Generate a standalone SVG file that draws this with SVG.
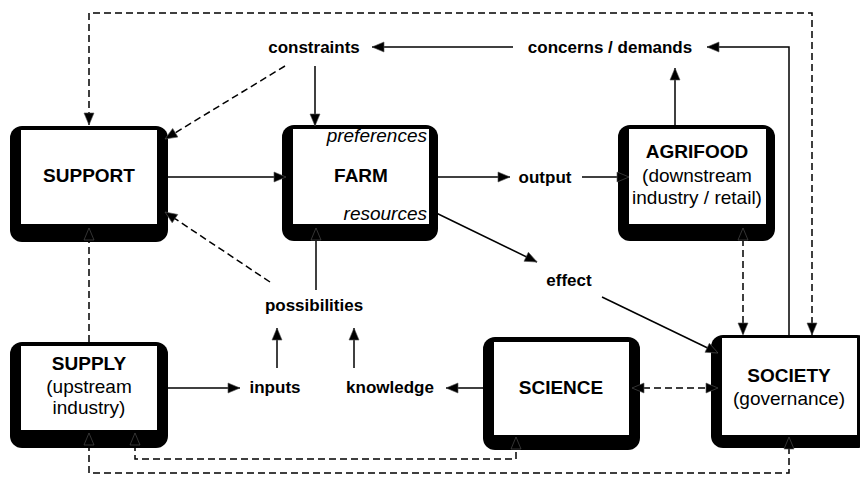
<svg xmlns="http://www.w3.org/2000/svg" width="860" height="477" viewBox="0 0 860 477">
<style>
.frame{fill:#000}
.inner{fill:#fff}
.t{font-family:"Liberation Sans",Arial,sans-serif;font-size:19px;fill:#000;text-anchor:middle}
.b{font-weight:bold}
.i{font-style:italic;text-anchor:end}
.lbl{font-family:"Liberation Sans",Arial,sans-serif;font-size:17px;font-weight:bold;fill:#000;text-anchor:middle}
.c{fill:none;stroke:#000;stroke-width:1.5}
.d{stroke-dasharray:7,4}
</style>
<defs>
<marker id="a" viewBox="-1 -1 14 12" refX="12" refY="5" markerWidth="14" markerHeight="12" markerUnits="userSpaceOnUse" orient="auto-start-reverse">
<path d="M0,0 L12,5 L0,10 z" fill="#000" stroke="#555" stroke-width="0.6" stroke-linejoin="round"/>
</marker>
</defs>
<rect width="860" height="477" fill="#fff"/>
<g id="labels">
<text class="lbl" x="314" y="53">constraints</text>
<text class="lbl" x="610" y="53">concerns / demands</text>
<text class="lbl" x="545" y="183">output</text>
<text class="lbl" x="569" y="286">effect</text>
<text class="lbl" x="314" y="311">possibilities</text>
<text class="lbl" x="275" y="393">inputs</text>
<text class="lbl" x="390" y="393">knowledge</text>
</g>
<g id="support">
<rect class="frame" x="10" y="126" width="158" height="116" rx="12"/>
<rect class="inner" x="21" y="130" width="136" height="94"/>
<text class="t b" x="89" y="182">SUPPORT</text>
</g>
<g id="farm">
<rect class="frame" x="282" y="125" width="156" height="116" rx="12"/>
<rect class="inner" x="293" y="129" width="136" height="95"/>
<text class="t b" x="361" y="182">FARM</text>
<text class="t i" x="427" y="142">preferences</text>
<text class="t i" x="427" y="220">resources</text>
</g>
<g id="agrifood">
<rect class="frame" x="618" y="125" width="157" height="116" rx="12"/>
<rect class="inner" x="629" y="129" width="137" height="95"/>
<text class="t b" x="697" y="158">AGRIFOOD</text>
<text class="t" x="697" y="182">(downstream</text>
<text class="t" x="697" y="204">industry / retail)</text>
</g>
<g id="supply">
<rect class="frame" x="10" y="342" width="158" height="106" rx="12"/>
<rect class="inner" x="21" y="346" width="136" height="84"/>
<text class="t b" x="89" y="370">SUPPLY</text>
<text class="t" x="89" y="393">(upstream</text>
<text class="t" x="89" y="414">industry)</text>
</g>
<g id="science">
<rect class="frame" x="483" y="337" width="157" height="113" rx="12"/>
<rect class="inner" x="494" y="342" width="135" height="93"/>
<text class="t b" x="561" y="394">SCIENCE</text>
</g>
<g id="society">
<rect class="frame" x="711" y="335" width="158" height="113" rx="12"/>
<rect class="inner" x="722" y="338" width="135" height="97"/>
<text class="t b" x="789" y="382">SOCIETY</text>
<text class="t" x="789" y="405">(governance)</text>
</g>
<g id="connectors">
<path class="c d" d="M812,335 L812,13 L89,13 L89,125" marker-start="url(#a)" marker-end="url(#a)"/>
<path class="c" d="M789,335 L789,47 L707,47" marker-end="url(#a)"/>
<path class="c" d="M513,47 L372,47" marker-end="url(#a)"/>
<path class="c" d="M675,125 L675,68" marker-end="url(#a)"/>
<path class="c" d="M315,66 L315,126" marker-end="url(#a)"/>
<path class="c d" d="M285,66 L165,139" marker-end="url(#a)"/>
<path class="c" d="M157,177 L286,177" marker-end="url(#a)"/>
<path class="c" d="M429,177 L510,177" marker-end="url(#a)"/>
<path class="c" d="M582,177 L629,177" marker-end="url(#a)"/>
<path class="c" d="M430,210 L537,262" marker-end="url(#a)"/>
<path class="c" d="M602,297 L718,353" marker-end="url(#a)"/>
<path class="c d" d="M743,228 L743,335" marker-start="url(#a)" marker-end="url(#a)"/>
<path class="c d" d="M270,282 L165,212" marker-end="url(#a)"/>
<path class="c" d="M316,290 L316,228" marker-end="url(#a)"/>
<path class="c d" d="M89,342 L89,228" marker-end="url(#a)"/>
<path class="c" d="M157,388 L240,388" marker-end="url(#a)"/>
<path class="c" d="M277,368 L277,328" marker-end="url(#a)"/>
<path class="c" d="M354,368 L354,328" marker-end="url(#a)"/>
<path class="c" d="M494,388 L446,388" marker-end="url(#a)"/>
<path class="c d" d="M632,388 L718,388" marker-start="url(#a)" marker-end="url(#a)"/>
<path class="c d" d="M135,433 L135,459 L516,459 L516,437" marker-start="url(#a)" marker-end="url(#a)"/>
<path class="c d" d="M89,433 L89,473 L789,473 L789,437" marker-start="url(#a)" marker-end="url(#a)"/>
</g>
</svg>
